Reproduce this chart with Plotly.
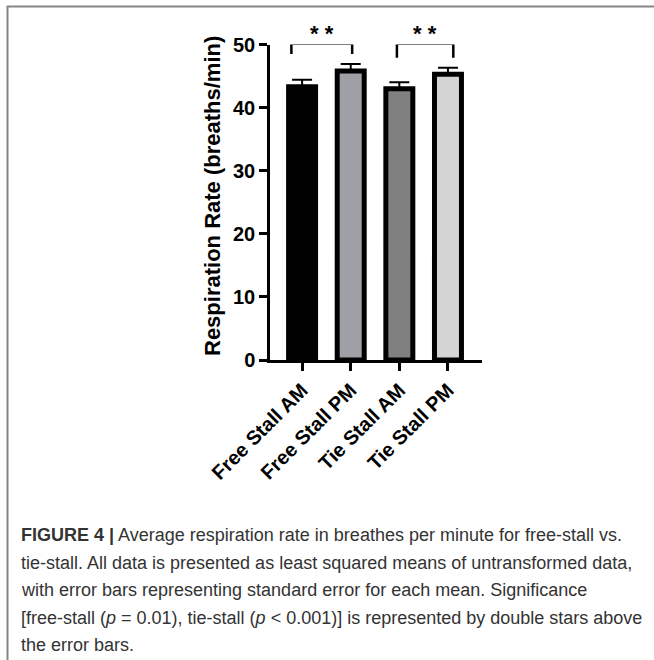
import plotly.graph_objects as go

# ---- data ----
categories = ["Free Stall AM", "Free Stall PM", "Tie Stall AM", "Tie Stall PM"]
means = [43.3, 45.8, 43.0, 45.3]
sem = [1.1, 1.1, 1.0, 1.0]
bar_colors = ["#000000", "#9f9fa6", "#808080", "#d4d4d4"]
y_ticks = [0, 10, 20, 30, 40, 50]

# significance brackets (category-position, value)
bracket1_x = [-0.22, -0.22, 1.03, 1.03]
bracket1_y = [48.5, 50.1, 50.1, 48.5]
bracket2_x = [1.95, 1.95, 3.11, 3.11]
bracket2_y = [47.9, 50.1, 50.1, 47.9]
sig_labels = ["* *", "* *"]
sig_x = [0.40, 2.53]

caption_lines = [
    "<b>FIGURE 4 |</b> Average respiration rate in breathes per minute for free-stall vs.",
    "tie-stall. All data is presented as least squared means of untransformed data,",
    "with error bars representing standard error for each mean. Significance",
    "[free-stall (<i>p</i> = 0.01), tie-stall (<i>p</i> &lt; 0.001)] is represented by double stars above",
    "the error bars.",
]

W, H = 654, 660
x0, x1 = 270, 482
y0, y1 = 44.5, 360
FONT = "Liberation Sans, Arial"

fig = go.Figure()
fig.add_trace(go.Bar(
    x=list(range(len(categories))), y=means, width=0.555,
    marker=dict(color=bar_colors, line=dict(color="black", width=5)),
    error_y=dict(type="data", symmetric=False, array=sem, arrayminus=[0] * len(sem),
                 color="black", thickness=2, width=10),
    showlegend=False,
))
for bx, by in [(bracket1_x, bracket1_y), (bracket2_x, bracket2_y)]:
    fig.add_trace(go.Scatter(x=bx, y=by, mode="lines", line=dict(color="black", width=2.5),
                             cliponaxis=False, showlegend=False, hoverinfo="skip"))

annotations = []
for sx, st in zip(sig_x, sig_labels):
    annotations.append(dict(x=sx, y=1.0, xref="x", yref="y domain", text="<b>%s</b>" % st,
                            showarrow=False, font=dict(family=FONT, size=22, color="black"),
                            xanchor="center", yanchor="bottom", yshift=-4))
annotations.append(dict(x=212 / W, y=1 - 196 / H, xref="paper", yref="paper",
                        text="<b>Respiration Rate (breaths/min)</b>", textangle=-90,
                        showarrow=False, font=dict(family=FONT, size=22, color="black"),
                        xanchor="center", yanchor="middle"))
for i, line in enumerate(caption_lines):
    annotations.append(dict(x=19 / W, y=1 - (535 + 27.5 * i) / H, xref="paper", yref="paper",
                            text=line, showarrow=False, align="left",
                            font=dict(family=FONT, size=18, color="#333333"),
                            xanchor="left", yanchor="middle"))

fig.update_layout(
    width=W, height=H, margin=dict(l=0, r=0, t=0, b=0, autoexpand=False),
    paper_bgcolor="white", plot_bgcolor="white",
    annotations=annotations,
    shapes=[
        dict(type="line", xref="paper", yref="paper", x0=7 / W, x1=1, y0=1 - 6.5 / H, y1=1 - 6.5 / H,
             line=dict(color="#858585", width=2)),
        dict(type="line", xref="paper", yref="paper", x0=7.5 / W, x1=7.5 / W, y0=0, y1=1 - 6 / H,
             line=dict(color="#858585", width=2)),
    ],
    xaxis=dict(domain=[x0 / W, x1 / W], range=[-0.66, 3.7], tickmode="array", automargin=False,
               tickvals=list(range(len(categories))), ticktext=["<b>%s</b>" % c for c in categories],
               tickangle=-45, ticks="outside", ticklen=8, tickwidth=2.5, tickcolor="black",
               showline=True, linecolor="black", linewidth=2.5, showgrid=False, zeroline=False,
               tickfont=dict(family=FONT, size=20, color="black")),
    yaxis=dict(domain=[1 - y1 / H, 1 - y0 / H], range=[0, 50], tickmode="array", automargin=False,
               tickvals=y_ticks, ticktext=["<b>%d</b>" % t for t in y_ticks],
               ticks="outside", ticklen=8, tickwidth=2.5, tickcolor="black",
               showline=True, linecolor="black", linewidth=2.5, showgrid=False, zeroline=False,
               tickfont=dict(family=FONT, size=20, color="black")),
)
fig.write_html("out.html")
